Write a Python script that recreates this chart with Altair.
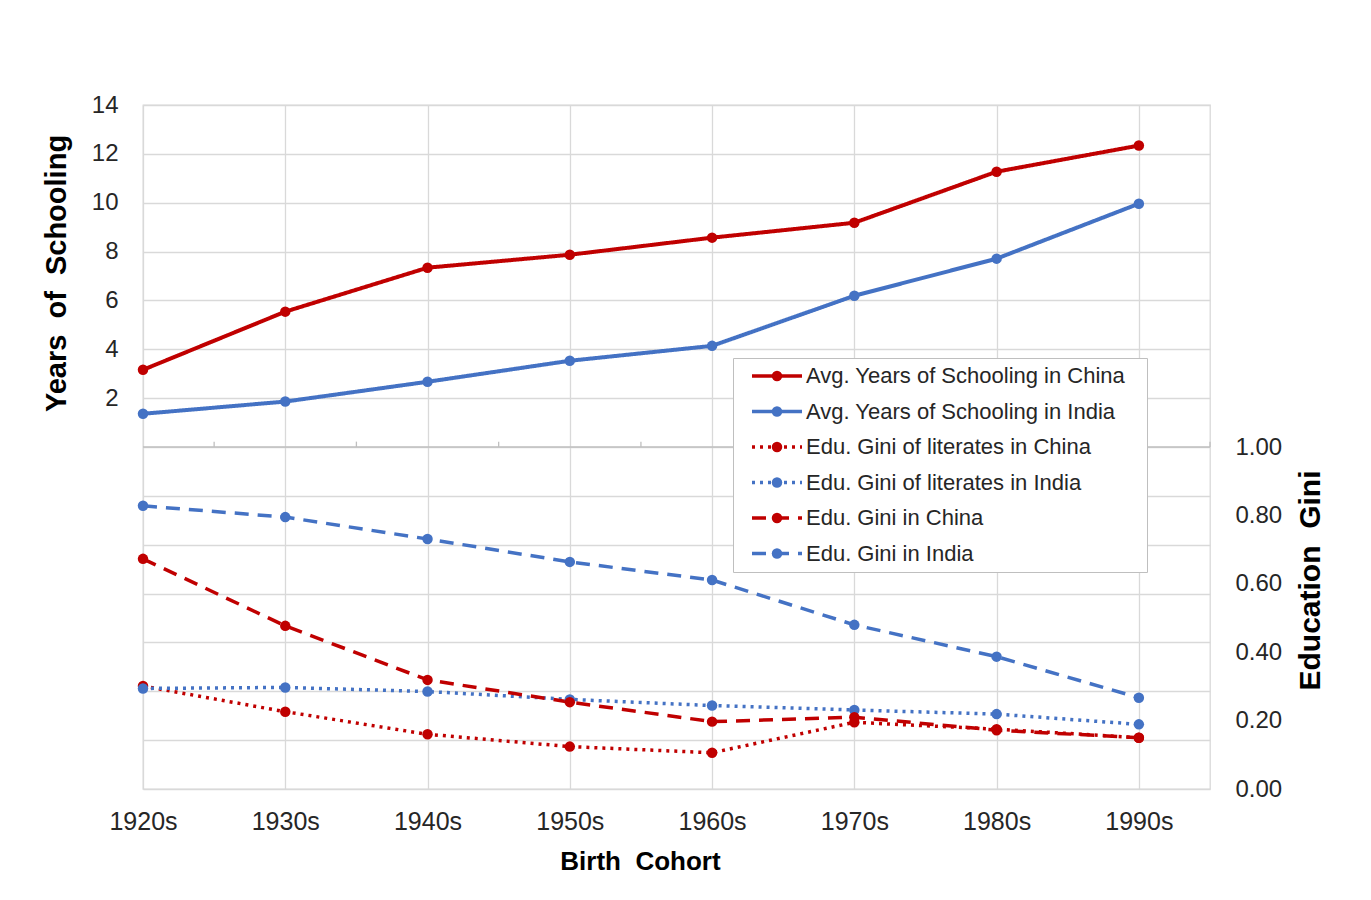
import altair as alt
import pandas as pd

decades = ["1920s", "1930s", "1940s", "1950s", "1960s", "1970s", "1980s", "1990s"]

years_china = [3.16, 5.54, 7.34, 7.87, 8.57, 9.18, 11.27, 12.34]
years_india = [1.36, 1.86, 2.67, 3.53, 4.14, 6.19, 7.71, 9.96]
gini_lit_china = [0.301, 0.226, 0.160, 0.124, 0.106, 0.195, 0.175, 0.150]
gini_lit_india = [0.294, 0.297, 0.285, 0.262, 0.244, 0.231, 0.219, 0.189]
gini_china = [0.673, 0.477, 0.319, 0.254, 0.197, 0.210, 0.172, 0.150]
gini_india = [0.828, 0.795, 0.731, 0.664, 0.611, 0.480, 0.387, 0.267]

series_names = [
    "Avg. Years of Schooling in China",
    "Avg. Years of Schooling in India",
    "Edu. Gini of literates in China",
    "Edu. Gini of literates in India",
    "Edu. Gini in China",
    "Edu. Gini in India",
]
series_values = [years_china, years_india, gini_lit_china, gini_lit_india, gini_china, gini_india]
point_codes = ["p0", "p1", "p2", "p3", "p4", "p5"]

RED = "#C00000"
BLUE = "#4472C4"
colors = [RED, BLUE, RED, BLUE, RED, BLUE]
dashes = [[1, 0], [1, 0], [3, 5], [3, 5], [14, 9], [14, 9]]

left_ticks = list(range(-14, 15, 2))
right_ticks = [0.0, 0.2, 0.4, 0.6, 0.8, 1.0]

rows = []
for i, (name, vals) in enumerate(zip(series_names, series_values)):
    for j, v in enumerate(vals):
        rows.append({"x": j, "decade": decades[j], "series": name, "pt": point_codes[i], "value": v})
df = pd.DataFrame(rows)
df_years = df[df["series"].isin(series_names[:2])]
df_gini = df[df["series"].isin(series_names[2:])]

axis_df = pd.DataFrame({"value": [0]})
minor_df = pd.DataFrame({"x": [j + 0.5 for j in range(len(decades))], "value": [0] * len(decades),
                         "value2": [0.22] * len(decades)})

FONT = "Liberation Sans"
GRID = "#d9d9d9"
NB = "\u00a0"
label_js = "[" + ",".join("'" + d + "'" for d in decades) + "][datum.value]"
point_label_js = "{" + ",".join("'" + c + "':'" + n + "'" for c, n in zip(point_codes, series_names)) + "}[datum.value]"

x_enc = alt.X(
    "x:Q",
    scale=alt.Scale(domain=[0, 7.5], nice=False, zero=False),
    axis=alt.Axis(
        values=list(range(len(decades))), labelExpr=label_js, grid=True, gridColor=GRID,
        gridWidth=1.3, ticks=False, tickSize=0, domain=False, labelPadding=20, labelFlush=False,
        labelFontSize=25, labelColor="#262626", titleFontSize=26, titleFontWeight="bold",
        titleColor="#000000", titlePadding=14, titleX=497,
    ),
    title="Birth" + NB + NB + "Cohort",
)

y_left_scale = alt.Scale(domain=[-14, 14], nice=False, zero=False)
y_left = alt.Y(
    "value:Q",
    scale=y_left_scale,
    axis=alt.Axis(
        values=left_ticks, labelExpr="datum.value >= 2 ? datum.label : ''", grid=True,
        gridColor=GRID, gridWidth=1.3, ticks=False, tickSize=0, domain=False, labelPadding=25,
        labelFlush=False, labelFontSize=24, labelColor="#262626", titleFontSize=29,
        titleFontWeight="bold", titleColor="#000000", titlePadding=20, titleY=168,
    ),
    title="Years" + NB + NB + "of" + NB + NB + "Schooling",
)

y_right = alt.Y(
    "value:Q",
    scale=alt.Scale(domain=[0, 2], nice=False, zero=False),
    axis=alt.Axis(
        orient="right", values=right_ticks, format=".2f", grid=False, ticks=False, tickSize=0,
        domain=False, labelPadding=25, labelFlush=False, labelFontSize=24, labelColor="#262626",
        titleFontSize=30, titleFontWeight="bold", titleColor="#000000",
        titleAngle=270, titleX=100, titleY=475, titleBaseline="middle",
    ),
    title="Education" + NB + NB + "Gini",
)

# Line legend: draws the box and the line symbols; a tiny invisible label at the far
# right sets the box width.
line_legend = alt.Legend(
    title=None, orient="none", legendX=590, legendY=253, padding=6,
    fillColor="white", strokeColor="#bfbfbf", symbolType="stroke", symbolSize=2500,
    symbolStrokeWidth=3.5, clipHeight=24, rowPadding=11.5, labelFontSize=22,
    labelFont=FONT, labelOpacity=0, labelLimit=0, labelOffset=330, symbolOffset=11,
    labelExpr="'.'",
)
# Point legend: drawn on top, gives the marker dots and the visible labels.
point_legend = alt.Legend(
    title=None, orient="none", legendX=590, legendY=253, padding=6,
    symbolType="circle", symbolSize=110, symbolStrokeWidth=0, symbolOpacity=1,
    clipHeight=24, rowPadding=11.5, labelFontSize=22, labelFont=FONT, labelColor="#262626",
    labelLimit=0, labelExpr=point_label_js, symbolOffset=27, labelOffset=18,
)

color_enc = alt.Color("series:N", scale=alt.Scale(domain=series_names, range=colors), legend=line_legend)
dash_enc = alt.StrokeDash("series:N", scale=alt.Scale(domain=series_names, range=dashes), legend=line_legend)
fill_enc = alt.Fill("pt:N", scale=alt.Scale(domain=point_codes, range=colors), legend=point_legend)

axis_rule = alt.Chart(axis_df).mark_rule(color="#bfbfbf", strokeWidth=1.5).encode(y=y_left)
minor_ticks = alt.Chart(minor_df).mark_rule(color="#bfbfbf", strokeWidth=1.3).encode(
    x=x_enc, y=y_left, y2="value2:Q"
)
years_line = alt.Chart(df_years).mark_line(strokeWidth=4).encode(
    x=x_enc, y=y_left, color=color_enc, strokeDash=dash_enc, detail="series:N"
)
years_pts = alt.Chart(df_years).mark_circle(size=110, opacity=1).encode(x=x_enc, y=y_left, fill=fill_enc)

gini_line = alt.Chart(df_gini).mark_line(strokeWidth=3.5).encode(
    x=x_enc, y=y_right, color=color_enc, strokeDash=dash_enc, detail="series:N"
)
gini_pts = alt.Chart(df_gini).mark_circle(size=110, opacity=1).encode(x=x_enc, y=y_right, fill=fill_enc)

years_layer = alt.layer(axis_rule, minor_ticks, years_line, years_pts)
gini_layer = alt.layer(gini_line, gini_pts)

chart = (
    alt.layer(years_layer, gini_layer)
    .resolve_scale(y="independent")
    .properties(
        width=1067, height=684,
        autosize=alt.AutoSizeParams(type="none"),
        padding={"left": 135, "top": 97, "right": 150, "bottom": 100},
    )
    .configure(font=FONT)
    .configure_view(stroke=GRID, strokeWidth=1.3)
)

chart.save("out.html", embed_options={"renderer": "svg", "actions": False})
